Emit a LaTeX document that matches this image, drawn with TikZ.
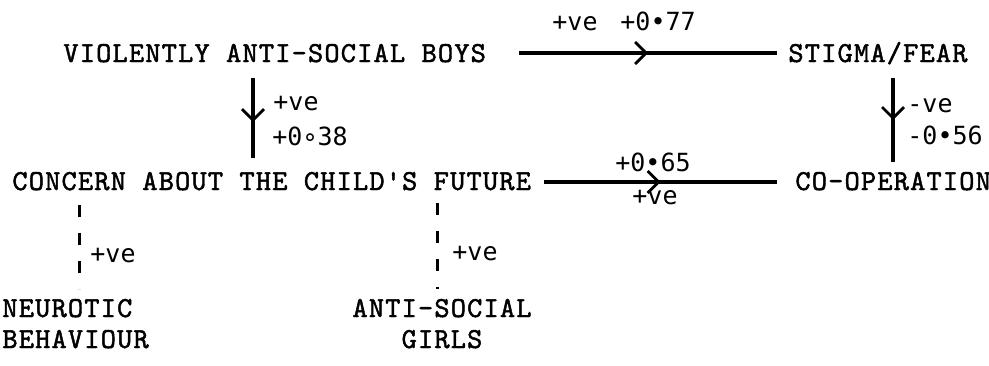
\documentclass[tikz,border=0pt]{standalone}
\usepackage{fontspec}
\usetikzlibrary{arrows.meta,decorations.markings,calc}
\newfontfamily\tw{lmmono10-regular.otf}[LetterSpace=4,FakeBold=1.6]
\newfontfamily\lab{DejaVu Sans Mono}
\begin{document}
\begin{tikzpicture}[x=0.5pt,y=-0.5pt,
  maintext/.style={font=\tw\fontsize{14.5}{16}\selectfont, inner sep=0pt, anchor=base west},
  lbl/.style={font=\lab\fontsize{12.5}{14}\selectfont, inner sep=0pt, anchor=base west},
  link/.style={line width=1.7pt},
  midarrow/.style={postaction={decorate}, decoration={markings,
      mark=at position #1 with {\arrow{Straight Barb[length=5.5pt,width=11pt,line width=1.4pt]}}}},
  dashlink/.style={line width=1.5pt, dash pattern=on 6pt off 8pt}]
\useasboundingbox (0,0) rectangle (989,365);

% texts
\node[maintext] (boys) at (63,62) {VIOLENTLY ANTI-SOCIAL BOYS};
\node[maintext] (stigma) at (788,62) {STIGMA/FEAR};
\node[maintext] (concern) at (12,190) {CONCERN ABOUT THE CHILD'S FUTURE};
\node[maintext] (coop) at (795,190) {CO-OPERATION};
\node[maintext] (neurotic) at (2,317) {NEUROTIC};
\node[maintext] (behaviour) at (2,348) {BEHAVIOUR};
\node[maintext, anchor=base] (antisocial) at (442,317) {ANTI-SOCIAL};
\node[maintext, anchor=base] (girls) at (442,348) {GIRLS};

% connectors
\draw[link, midarrow=0.5] ($(boys.base east)+(33,-9)$) -- ($(stigma.base west)+(-11,-9)$);
\draw[link, midarrow=0.5] ($(concern.base east)+(13,-8)$) -- ($(coop.base west)+(-18,-8)$);
\draw[link, midarrow=0.55] ($(boys.base west)+(190,16)$) -- ($(concern.base west)+(241,-32)$);
\draw[link, midarrow=0.5] ($(stigma.base west)+(105,16)$) -- ($(coop.base west)+(98,-28)$);
\draw[dashlink] ($(concern.base west)+(67,15)$) -- ($(neurotic.base west)+(77,-28)$);
\draw[dashlink] ($(concern.base west)+(425,13)$) -- ($(antisocial.base)+(-5,-28)$);

% labels
\node[lbl] (l1) at (552,30) {+ve};
\node[lbl] (l2) at (620,30) {+0•77};
\node[lbl] (l3) at (273,110) {+ve};
\node[lbl] (l4) at (272,145) {+0∘38};
\node[lbl] (l5) at (907,112) {-ve};
\node[lbl] (l6) at (907,144) {-0•56};
\node[lbl, anchor=base] (l7) at (653,171) {+0•65};
\node[lbl, anchor=base] (l8) at (655,204) {+ve};
\node[lbl] (l9) at (90,262) {+ve};
\node[lbl] (l10) at (452,260) {+ve};
\end{tikzpicture}
\end{document}
